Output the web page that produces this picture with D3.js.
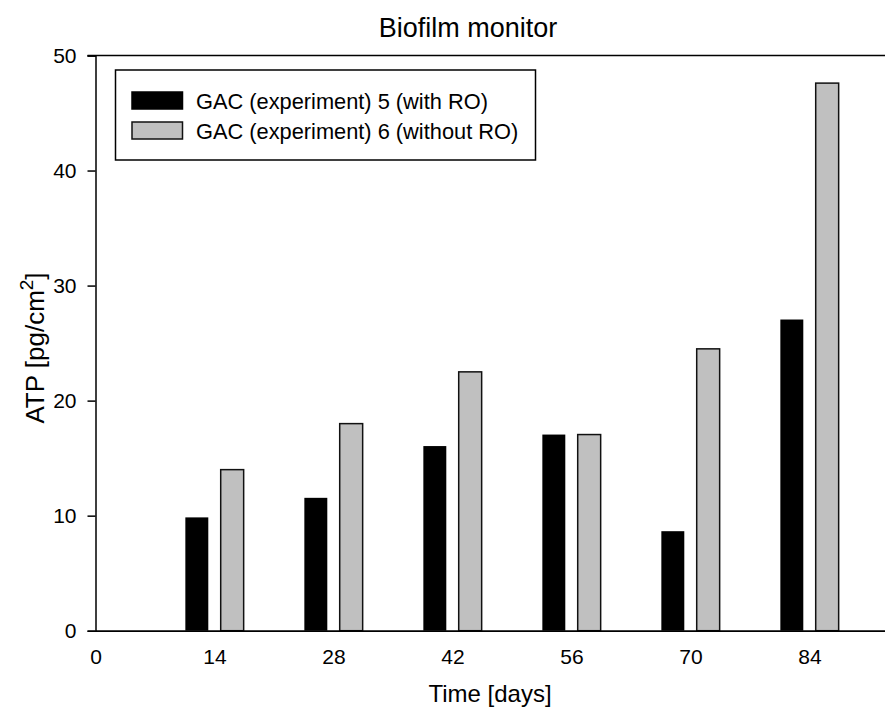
<!DOCTYPE html>
<html>
<head>
<meta charset="utf-8">
<script src="https://cdn.jsdelivr.net/npm/d3@7"></script>
<style>
  html, body { margin: 0; padding: 0; background: #fff; }
  svg { display: block; font-family: "Liberation Sans", Arial, sans-serif; }
</style>
</head>
<body>
<svg id="chart" width="885" height="707"></svg>
<script>
// Sampling days and ATP measurements for the two GAC experiments
const days = [14, 28, 42, 56, 70, 84];
const withRO = [9.85, 11.55, 16.05, 17.05, 8.65, 27.05];
const withoutRO = [14.0, 18.0, 22.5, 17.05, 24.5, 47.6];
const seriesNames = ["GAC (experiment) 5 (with RO)", "GAC (experiment) 6 (without RO)"];
const seriesFills = ["#000000", "#c0c0c0"];
const xTicks = [0, 14, 28, 42, 56, 70, 84];
const yTicks = [0, 10, 20, 30, 40, 50];

const svg = d3.select("#chart");

const x = d3.scaleLinear().domain([0, 93]).range([95.5, 886]);
const y = d3.scaleLinear().domain([0, 50]).range([630.7, 55.5]);

const barW = 2.7;     // bar width in days
const barOff = 2.08;  // distance of each bar centre from the sampling day

// Top frame line
svg.append("line")
  .attr("x1", x(0) - 8).attr("x2", x(93))
  .attr("y1", y(50)).attr("y2", y(50))
  .attr("stroke", "#000").attr("stroke-width", 1.5);

// Bars
const series = [withRO, withoutRO];
series.forEach((vals, si) => {
  const off = si === 0 ? -barOff : barOff;
  svg.append("g").selectAll("rect")
    .data(days.map((d, i) => ({ day: d, v: vals[i] })))
    .join("rect")
    .attr("x", d => x(d.day + off - barW / 2))
    .attr("width", d => x(d.day + off + barW / 2) - x(d.day + off - barW / 2))
    .attr("y", d => y(d.v))
    .attr("height", d => y(0) - y(d.v))
    .attr("fill", seriesFills[si])
    .attr("stroke", si === 0 ? "none" : "#111")
    .attr("stroke-width", 1.5);
});

// Y axis
const yAxis = svg.append("g")
  .attr("transform", `translate(${x(0)},0)`)
  .call(d3.axisLeft(y).tickValues(yTicks).tickSize(8).tickPadding(11).tickFormat(d3.format("d")));
yAxis.select(".domain").attr("stroke-width", 1.5);
yAxis.selectAll(".tick line").attr("stroke-width", 1.5);
yAxis.selectAll("text").attr("font-size", 21).attr("fill", "#000")
  .attr("font-family", "Liberation Sans, Arial, sans-serif");

// X axis
const xAxis = svg.append("g")
  .attr("transform", `translate(0,${y(0)})`)
  .call(d3.axisBottom(x).tickValues(xTicks).tickSize(0).tickPadding(18).tickFormat(d3.format("d")));
xAxis.select(".domain").attr("stroke-width", 1.8);
xAxis.selectAll("text").attr("font-size", 21).attr("fill", "#000")
  .attr("font-family", "Liberation Sans, Arial, sans-serif");

// Title
svg.append("text")
  .attr("x", 468).attr("y", 37)
  .attr("text-anchor", "middle")
  .attr("font-size", 27)
  .text("Biofilm monitor");

// X axis title
svg.append("text")
  .attr("x", 490).attr("y", 702)
  .attr("text-anchor", "middle")
  .attr("font-size", 24)
  .text("Time [days]");

// Y axis title with superscript
const yt = svg.append("text")
  .attr("transform", "translate(44,348) rotate(-90)")
  .attr("text-anchor", "middle")
  .attr("font-size", 26);
yt.append("tspan").text("ATP [pg/cm");
yt.append("tspan").attr("font-size", 19).attr("dy", -11).text("2");
yt.append("tspan").attr("dy", 11).text("]");

// Legend
const lg = svg.append("g");
lg.append("rect")
  .attr("x", 115.5).attr("y", 70).attr("width", 420).attr("height", 90)
  .attr("fill", "#fff").attr("stroke", "#000").attr("stroke-width", 1.5);
seriesNames.forEach((name, i) => {
  const cy = 100.5 + i * 30;
  lg.append("rect")
    .attr("x", 132).attr("y", cy - 8.5).attr("width", 50.5).attr("height", 17)
    .attr("fill", seriesFills[i])
    .attr("stroke", i === 0 ? "#000" : "#111").attr("stroke-width", 1.5);
  lg.append("text")
    .attr("x", 196).attr("y", cy + 8)
    .attr("font-size", 21.8)
    .text(name);
});
</script>
</body>
</html>
